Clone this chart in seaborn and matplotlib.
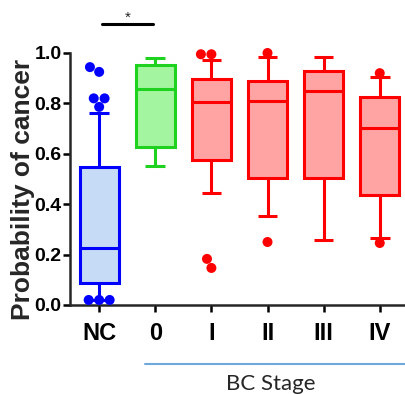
import numpy as np
import pandas as pd
import matplotlib
matplotlib.use("Agg")
import matplotlib.pyplot as plt
import seaborn as sns

# five-number summaries (whisker ends, quartiles, median)
stages = ["NC", "0", "I", "II", "III", "IV"]
whisker_low = [0.020, 0.552, 0.444, 0.353, 0.256, 0.266]
q1 = [0.087, 0.627, 0.575, 0.504, 0.504, 0.437]
median = [0.226, 0.857, 0.806, 0.810, 0.850, 0.702]
q3 = [0.548, 0.952, 0.897, 0.889, 0.929, 0.825]
whisker_high = [0.762, 0.980, 0.972, 0.984, 0.984, 0.905]

# points drawn beyond the whiskers
outlier_stage = ["NC", "NC", "NC", "NC", "NC", "NC", "NC", "NC",
                 "I", "I", "I", "I", "II", "II", "IV", "IV"]
outlier_value = [0.944, 0.925, 0.820, 0.820, 0.786, 0.020, 0.020, 0.020,
                 0.995, 0.995, 0.183, 0.147, 1.000, 0.250, 0.920, 0.246]

edge_colors = ["#0000FF", "#1FD21F", "#FF0000", "#FF0000", "#FF0000", "#FF0000"]
fill_colors = ["#C6DBF5", "#A4F5A0", "#FFA3A3", "#FFA3A3", "#FFA3A3", "#FFA3A3"]

# long-form table: with five values per group, the 0/25/50/75/100 percentiles
# are exactly the summary values above
rows = []
for i, s in enumerate(stages):
    for v in (whisker_low[i], q1[i], median[i], q3[i], whisker_high[i]):
        rows.append({"stage": s, "prob": v})
box_df = pd.DataFrame(rows)
box_df["stage"] = pd.Categorical(box_df["stage"], categories=stages)
out_df = pd.DataFrame({"stage": pd.Categorical(outlier_stage, categories=stages),
                       "prob": outlier_value})

sns.set_style("ticks")
plt.rcParams["font.family"] = ["Liberation Sans", "DejaVu Sans"]

fig = plt.figure(figsize=(4.05, 3.94), dpi=100)
ax = fig.add_axes([0.1728, 0.2259, 0.8272, 0.6396])

sns.boxplot(data=box_df, x="stage", y="prob", hue="stage", order=stages,
            hue_order=stages, palette=fill_colors, saturation=1,
            whis=(0, 100), showfliers=False, width=0.7, linewidth=2.2,
            legend=False, ax=ax)

for cont, ec in zip(ax.containers, edge_colors):
    for b in cont.boxes:
        b.set_edgecolor(ec)
        b.set_linewidth(2.2)
    for ln in list(cont.medians) + list(cont.whiskers) + list(cont.caps):
        ln.set_color(ec)
        ln.set_linewidth(2.2)
        ln.set_solid_capstyle("butt")

n_before = len(ax.collections)
sns.swarmplot(data=out_df, x="stage", y="prob", hue="stage", order=stages,
              hue_order=stages, palette=edge_colors, size=7.2, legend=False,
              ax=ax)
for c in ax.collections[n_before:]:
    c.set_clip_on(False)
    c.set_zorder(5)

ax.set_ylim(0, 1.0)
ax.set_xlim(-0.52, 5.45)
ax.set_yticks([0.0, 0.2, 0.4, 0.6, 0.8, 1.0])
ax.set_yticklabels(["0.0", "0.2", "0.4", "0.6", "0.8", "1.0"])
ax.set_xlabel("")
ax.set_ylabel("Probability of cancer", fontsize=19, fontweight="bold",
              family=["Liberation Sans", "DejaVu Sans"])
ax.yaxis.set_label_coords(-0.105, 0.46)

for t in ax.get_yticklabels():
    t.set_fontweight("bold")
    t.set_fontsize(14)
for t in ax.get_xticklabels():
    t.set_fontweight("bold")
    t.set_fontsize(17)

ax.tick_params(axis="y", length=5, width=1.8, pad=1, colors="black")
ax.tick_params(axis="x", length=5, width=1.8, pad=7, colors="black")
sns.despine(ax=ax, top=True, right=True)
ax.spines["left"].set_linewidth(1.8)
ax.spines["bottom"].set_linewidth(1.8)

# significance bar between NC and stage 0
ax.plot([0.05, 0.96], [1.115, 1.115], color="black", lw=2.2, clip_on=False)
ax.text(0.5, 1.14, "*", ha="center", va="center", fontsize=11, clip_on=False)

# bracket under the breast-cancer stages
ax.plot([0.82, 5.45], [-0.234, -0.234], color="#6FA8DC", lw=1.5, clip_on=False)
ax.text(3.06, -0.275, "BC Stage", ha="center", va="top", fontsize=16,
        family=["Lato", "DejaVu Sans"])

fig.savefig("out.png", dpi=100)
